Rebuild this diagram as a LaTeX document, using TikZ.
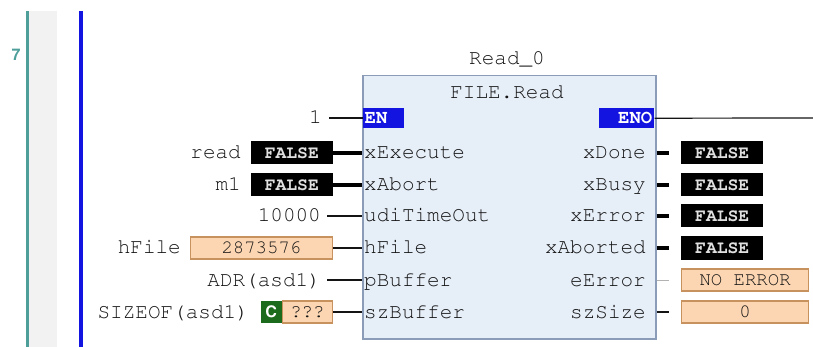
\documentclass[tikz,border=0pt]{standalone}
\usepackage[T1]{fontenc}
\definecolor{fbfill}{HTML}{E6EEF8}
\definecolor{fbdraw}{HTML}{8A9CB8}
\definecolor{peach}{HTML}{FCD6B2}
\definecolor{peachdraw}{HTML}{C8925E}
\definecolor{enblue}{HTML}{1414E0}
\definecolor{teal7}{HTML}{4E9E9A}
\definecolor{strip}{HTML}{F2F2F2}
\definecolor{cgreen}{HTML}{1C6A1C}
\definecolor{txt}{HTML}{141414}
\newcommand{\cur}{\fontfamily{pcr}\selectfont}
\newcommand{\hel}{\fontfamily{phv}\selectfont}
\tikzset{
  lbl/.style={font=\cur\fontsize{21}{21}\selectfont, text=txt, inner sep=0pt, text height=12pt, text depth=0pt},
  boolv/.style={fill=black, text=white!88!black, font=\cur\bfseries\fontsize{18}{18}\selectfont, minimum width=82pt, minimum height=23pt, inner sep=0pt, text height=11pt, text depth=0pt},
  numv/.style={fill=peach, draw=peachdraw, line width=1.2pt, text=txt, font=\cur\fontsize{19}{19}\selectfont, minimum height=22pt, inner sep=0pt, text height=11pt, text depth=0pt},
  enbox/.style={fill=enblue, text=white, font=\cur\bfseries\fontsize{19}{19}\selectfont, minimum height=20pt, inner sep=2pt, text height=11pt, text depth=0pt},
  wire/.style={draw=txt, line width=1.2pt},
  bwire/.style={draw=black, line width=3.5pt},
}
\begin{document}
\begin{tikzpicture}[x=1pt,y=-1pt]
\useasboundingbox (0,0) rectangle (813,347);
\fill[white] (0,0) rectangle (813,347);
% left margin
\fill[strip] (29,11) rectangle (57,347);
\fill[teal7] (25.5,11) rectangle (29,347);
\fill[enblue] (78.5,11) rectangle (82.5,347);
\node[font=\hel\bfseries\fontsize{16}{16}\selectfont, text=teal7, inner sep=0pt] (ln) at (16,55) {7};

% function block
\node[draw=fbdraw, fill=fbfill, line width=1.5pt, minimum width=293pt, minimum height=263pt, anchor=north west, inner sep=0pt] (fb) at (362,75) {};
\node[lbl] (inst) at (507,59) {Read\_0};
\node[lbl] (type) at (507,93) {FILE.Read};
\node[enbox, anchor=north west, minimum width=41pt, align=left, text width=37pt] (en) at (362.5,108) {EN};
\node[enbox, anchor=north east, minimum width=55pt, align=right, text width=51pt] (eno) at (654.5,108) {ENO};

% input port labels
\node[lbl, anchor=west] (pexe) at (364,153) {xExecute};
\node[lbl, anchor=west] (pabo) at (364,185) {xAbort};
\node[lbl, anchor=west] (ptim) at (364,216) {udiTimeOut};
\node[lbl, anchor=west] (pfil) at (364,248) {hFile};
\node[lbl, anchor=west] (pbuf) at (364,280) {pBuffer};
\node[lbl, anchor=west] (psz) at (364,312) {szBuffer};
% output port labels
\node[lbl, anchor=east] (qdone) at (646,153) {xDone};
\node[lbl, anchor=east] (qbusy) at (646,185) {xBusy};
\node[lbl, anchor=east] (qerr) at (646,216) {xError};
\node[lbl, anchor=east] (qabo) at (646,248) {xAborted};
\node[lbl, anchor=east] (qeerr) at (646,280) {eError};
\node[lbl, anchor=east] (qsize) at (646,312) {szSize};

% EN / ENO
\node[lbl, anchor=east] (one) at (322,118) {1};
\coordinate (enoend) at (813,118);
\draw[wire] ([xshift=7pt]one.east) -- (one.east -| en.west);
\draw[wire] (eno.east) -- (enoend);

% inputs
\node[boolv, anchor=east] (vread) at (333,153) {FALSE};
\node[lbl, anchor=east] (nread) at (241,153) {read};
\node[boolv, anchor=east] (vm1) at (333,185) {FALSE};
\node[lbl, anchor=east] (nm1) at (241,185) {m1};
\node[lbl, anchor=east] (vtim) at (321,216) {10000};
\node[numv, anchor=east, minimum width=142pt] (vfil) at (333,248) {2873576};
\node[lbl, anchor=east] (nfil) at (181,248) {hFile};
\node[lbl, anchor=east] (vbuf) at (321,280) {ADR(asd1)};
\node[numv, anchor=east, minimum width=50pt] (vsz) at (333,312) {???};
\node[fill=cgreen, text=white, font=\hel\bfseries\fontsize{16}{16}\selectfont, minimum width=21pt, minimum height=22pt, inner sep=0pt, anchor=east] (cmark) at (vsz.west) {C};
\node[lbl, anchor=east] (nsz) at (249,312) {SIZEOF(asd1)};

\draw[bwire] (vread.east) -- (vread.east -| fb.west);
\draw[bwire] (vm1.east) -- (vm1.east -| fb.west);
\draw[wire] ([xshift=6pt]vtim.east) -- (vtim.east -| fb.west);
\draw[wire] (vfil.east) -- (vfil.east -| fb.west);
\draw[wire] ([xshift=6pt]vbuf.east) -- (vbuf.east -| fb.west);
\draw[wire] (vsz.east) -- (vsz.east -| fb.west);

% outputs
\node[boolv, anchor=west] (odone) at (681,153) {FALSE};
\node[boolv, anchor=west] (obusy) at (681,185) {FALSE};
\node[boolv, anchor=west] (oerr) at (681,216) {FALSE};
\node[boolv, anchor=west] (oabo) at (681,248) {FALSE};
\node[numv, anchor=west, minimum width=127pt] (oeerr) at (681,280) {NO ERROR};
\node[numv, anchor=west, minimum width=127pt] (osize) at (681,312) {0};

\coordinate (cdone) at (669,153);
\coordinate (cbusy) at (669,185);
\coordinate (cerr) at (669,216);
\coordinate (cabo) at (669,248);
\coordinate (ceerr) at (669,280);
\coordinate (csize) at (669,312);
\draw[bwire] (qdone.east -| fb.east) -- (cdone);
\draw[bwire] (qbusy.east -| fb.east) -- (cbusy);
\draw[bwire] (qerr.east -| fb.east) -- (cerr);
\draw[bwire] (qabo.east -| fb.east) -- (cabo);
\draw[draw=gray!60, line width=1pt] (qeerr.east -| fb.east) -- (ceerr);
\draw[wire] (qsize.east -| fb.east) -- (csize);
\end{tikzpicture}
\end{document}
